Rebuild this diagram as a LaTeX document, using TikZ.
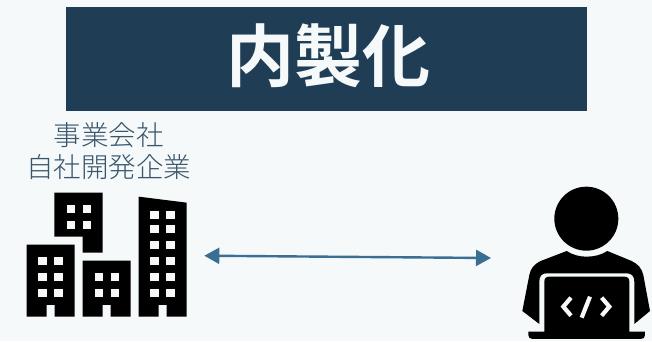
\documentclass[tikz,border=0pt]{standalone}
\usepackage{fontspec}
\usepackage{xcolor}
\usepackage{tikz}
\usetikzlibrary{arrows.meta,positioning}
\newfontfamily\cjkbold{Noto Sans CJK JP Bold}
\newfontfamily\cjklight{Noto Sans CJK JP Light}
\definecolor{pagebg}{HTML}{F5F9FA}
\definecolor{titlebg}{HTML}{1F3D54}
\definecolor{labelcol}{HTML}{3A566C}
\definecolor{arrowcol}{HTML}{3A6E92}
\tikzset{
  titlebox/.style={fill=titlebg,minimum width=521pt,minimum height=104pt,inner sep=0pt},
  titletext/.style={text=pagebg,inner sep=0pt,font=\cjkbold\fontsize{68}{68}\selectfont},
  firmlabel/.style={text=labelcol,align=center,inner sep=0pt,font=\cjklight\fontsize{27.5}{32}\selectfont},
  winbox/.style={fill=pagebg},
  codemark/.style={draw=pagebg,line width=4.2pt,line cap=butt}
}
\begin{document}
\begin{tikzpicture}[x=1pt,y=-1pt]
  \useasboundingbox (0,0) rectangle (652,341);
  \fill[pagebg] (0,0) rectangle (652,341);
  \node[titlebox] (title) at (326.5,59) {};
  \node[titletext] (titleword) at (328,56) {内製化};
  \node[firmlabel] (firm) at (108.5,151) {事業会社\\自社開発企業};
  % buildings
  \begin{scope}[shift={(0,180)},x=0.3333pt,y=-0.3333pt]
    \fill (163,38) -- (308,38) -- (308,218) -- (248,218) -- (248,170) -- (163,170) -- cycle;
    \fill (80,194) -- (224,194) -- (224,410) -- (164,410) -- (164,375) -- (140,375) -- (140,410) -- (80,410) -- cycle;
    \fill (248,242) -- (392,242) -- (392,410) -- (332,410) -- (332,375) -- (308,375) -- (308,410) -- (248,410) -- cycle;
    \fill (416,50) -- (560,68) -- (560,410) -- (500,410) -- (500,375) -- (476,375) -- (476,410) -- (416,410) -- cycle;
    \foreach \wx in {200,248} \foreach \wy in {75,123}
      \fill[winbox] (\wx,\wy) rectangle ++(24,24);
    \foreach \wx in {115,163} \foreach \wy in {230,278,326}
      \fill[winbox] (\wx,\wy) rectangle ++(25,25);
    \foreach \wx in {284,332} \foreach \wy in {278,326}
      \fill[winbox] (\wx,\wy) rectangle ++(24,25);
    \foreach \wx in {451,499} \foreach \wy in {92,134,182,230,278,326}
      \fill[winbox] (\wx,\wy) rectangle ++(25,24);
  \end{scope}
  % developer
  \begin{scope}[shift={(500,175)},x=0.3333pt,y=-0.3333pt]
    \fill (259,131) circle[radius=96];
    \fill (200,228) .. controls (218,240) and (240,245) .. (259,245) .. controls (282,245) and (304,240) .. (322,228)
      -- (395,258) .. controls (415,268) and (425,280) .. (430,300) -- (450,408) -- (403,447) -- (403,320)
      .. controls (403,303) and (395,295) .. (380,295) -- (140,295) .. controls (125,295) and (118,303) .. (118,320)
      -- (118,447) -- (67,408) -- (88,300) .. controls (92,280) and (102,268) .. (122,258) -- cycle;
    \fill (133,320) .. controls (133,310) and (138,305) .. (148,305) -- (373,305) .. controls (383,305) and (388,310) .. (388,320) -- (388,470)
      -- (435,470) -- (435,480) .. controls (435,488) and (430,492) .. (422,492) -- (98,492) .. controls (90,492) and (85,488) .. (85,480) -- (85,470) -- (133,470) -- cycle;
    \draw[codemark] (213,368) -- (190,395) -- (213,422);
    \draw[codemark] (270,365) -- (245,428);
    \draw[codemark] (305,368) -- (328,395) -- (305,422);
  \end{scope}
  % link
  \coordinate (linkfirm) at (204.3,255.7);
  \coordinate (linkdev) at (491,258);
  \draw[arrowcol,line width=2.4pt,{Triangle[length=15pt,width=16pt]}-{Triangle[length=15pt,width=16pt]}] (linkfirm) -- (linkdev);
\end{tikzpicture}
\end{document}
